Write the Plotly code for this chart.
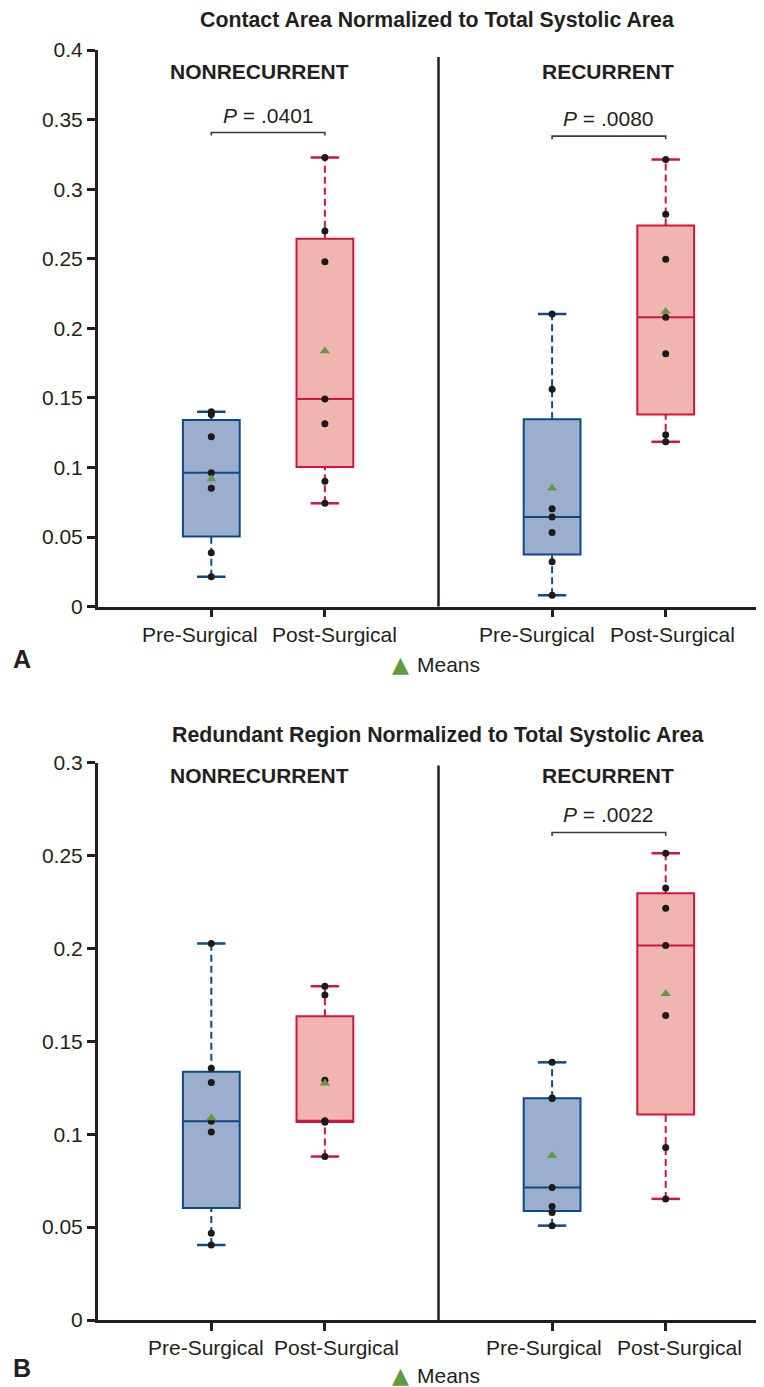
import numpy as np
import plotly.graph_objects as go

FONT = "Liberation Sans, Arial, Helvetica, sans-serif"
INK = "#231f20"
BLUE_LINE = "#0b4a83"
BLUE_FILL = "#9caecd"
RED_LINE = "#d2143f"
RED_FILL = "#efb5ae"
GREEN = "#5e9b3f"
DOT = "#1b1b1b"

# ---------------- data ----------------
categories = ["Pre-Surgical", "Post-Surgical"]
groups = ["NONRECURRENT", "RECURRENT"]
titles = ["Contact Area Normalized to Total Systolic Area",
          "Redundant Region Normalized to Total Systolic Area"]
panel_letters = ["A", "B"]

# Panel A: contact area / total systolic area
a_nonrec_pre = [0.0216, 0.0388, 0.0851, 0.0963, 0.1221, 0.1381, 0.1401]
a_nonrec_post = [0.0743, 0.0901, 0.1315, 0.1492, 0.2478, 0.2699, 0.3228]
a_rec_pre = [0.0082, 0.0323, 0.0534, 0.0644, 0.0704, 0.1562, 0.2103]
a_rec_post = [0.1185, 0.1236, 0.1818, 0.2079, 0.2496, 0.2819, 0.3214]

# Panel B: redundant region / total systolic area
b_nonrec_pre = [0.0404, 0.0467, 0.1012, 0.1070, 0.1278, 0.1355, 0.2027]
b_nonrec_post = [0.0880, 0.1065, 0.1068, 0.1072, 0.1290, 0.1750, 0.1797]
b_rec_pre = [0.0508, 0.0579, 0.0611, 0.0713, 0.1192, 0.1195, 0.1387]
b_rec_post = [0.0652, 0.0929, 0.1639, 0.2016, 0.2216, 0.2325, 0.2512]

a_pvalues = [".0401", ".0080"]
b_pvalues = [None, ".0022"]

a_ticks = [0, 0.05, 0.1, 0.15, 0.2, 0.25, 0.3, 0.35, 0.4]
a_ticktext = ["0", "0.05", "0.1", "0.15", "0.2", "0.25", "0.3", "0.35", "0.4"]
b_ticks = [0, 0.05, 0.1, 0.15, 0.2, 0.25, 0.3]
b_ticktext = ["0", "0.05", "0.1", "0.15", "0.2", "0.25", "0.3"]

# ---------------- layout constants ----------------
OFF = 8                         # default page margin of the html body
W, H = 764 - OFF, 1387 - OFF
POS = [[1, 2], [4, 5]]          # x positions: group -> [pre, post]
BOXW = 0.5
CAPW = 0.25
X0PX = 97.7 - OFF
UNIT = 113.6
XMAX = (W - X0PX) / UNIT


def px(x):
    return (x - OFF) / W


def py(y):
    return 1 - (y - OFF) / H


panels = [
    dict(data=[[a_nonrec_pre, a_nonrec_post], [a_rec_pre, a_rec_post]],
         pvals=a_pvalues, ymax=0.4, ticks=a_ticks, ticktext=a_ticktext,
         dom=[py(606.7), py(50)], xa="x", ya="y",
         title_py=19.5, letter_py=659, means_py=665, cat_py=634,
         cat_shift=[[-11, 10], [-15, 7]],
         group_y=0.3848, bracket_y=[0.3407, 0.3381], bracket_d=0.0022,
         p_y=[0.3532, 0.3507], div_top=0.395),
    dict(data=[[b_nonrec_pre, b_nonrec_post], [b_rec_pre, b_rec_post]],
         pvals=b_pvalues, ymax=0.3, ticks=b_ticks, ticktext=b_ticktext,
         dom=[py(1320), py(762.7)], xa="x2", ya="y2",
         title_py=734.5, letter_py=1368, means_py=1375, cat_py=1347.5,
         cat_shift=[[-5, 12], [-8, 14]],
         group_y=0.2930, bracket_y=[None, 0.2624], bracket_d=0.0018,
         p_y=[None, 0.2722], div_top=0.2985),
]

fig = go.Figure()
annotations = []
shapes = []

for pi, P in enumerate(panels):
    xa, ya = P["xa"], P["ya"]
    for gi in range(2):
        for ci in range(2):
            vals = np.array(P["data"][gi][ci])
            p = POS[gi][ci]
            line_c = BLUE_LINE if ci == 0 else RED_LINE
            fill_c = BLUE_FILL if ci == 0 else RED_FILL
            q1, med, q3 = np.quantile(vals, [0.25, 0.5, 0.75], method="hazen")
            lo, hi = vals.min(), vals.max()
            # dashed whiskers
            fig.add_trace(go.Scatter(
                x=[p, p, None, p, p], y=[q3, hi, None, lo, q1], mode="lines",
                line=dict(color=line_c, width=2, dash="7px,4px"),
                xaxis=xa, yaxis=ya, showlegend=False, hoverinfo="skip"))
            # caps
            fig.add_trace(go.Scatter(
                x=[p - CAPW / 2, p + CAPW / 2, None, p - CAPW / 2, p + CAPW / 2],
                y=[hi, hi, None, lo, lo], mode="lines",
                line=dict(color=line_c, width=2.5),
                xaxis=xa, yaxis=ya, showlegend=False, hoverinfo="skip"))
            # box
            fig.add_trace(go.Box(
                x=[p], q1=[q1], median=[med], q3=[q3],
                lowerfence=[q1], upperfence=[q3],
                width=BOXW, whiskerwidth=0, boxpoints=False,
                fillcolor=fill_c, line=dict(color=line_c, width=2),
                xaxis=xa, yaxis=ya, showlegend=False, hoverinfo="skip"))
            # individual points
            fig.add_trace(go.Scatter(
                x=[p] * len(vals), y=vals, mode="markers",
                marker=dict(color=DOT, size=7),
                xaxis=xa, yaxis=ya, showlegend=False, hoverinfo="skip"))
            # mean
            fig.add_trace(go.Scatter(
                x=[p], y=[vals.mean()], mode="markers",
                marker=dict(symbol="triangle-up", color=GREEN, size=9),
                xaxis=xa, yaxis=ya, showlegend=False, hoverinfo="skip"))
            # category label under the tick
            annotations.append(dict(
                text=categories[ci], x=p, xref=xa, y=py(P["cat_py"]), yref="paper",
                xshift=P["cat_shift"][gi][ci], showarrow=False,
                xanchor="center", yanchor="middle",
                font=dict(family=FONT, size=21, color=INK)))

        # group label
        annotations.append(dict(
            text="<b>%s</b>" % groups[gi], x=[1.42, 4.49][gi], y=P["group_y"],
            xref=xa, yref=ya, showarrow=False, xanchor="center", yanchor="middle",
            font=dict(family=FONT, size=21, color=INK)))
        # p-value bracket
        if P["pvals"][gi] is not None:
            by = P["bracket_y"][gi]
            d = P["bracket_d"]
            x0, x1 = POS[gi]
            fig.add_trace(go.Scatter(
                x=[x0, x0, x1, x1], y=[by - d, by, by, by - d], mode="lines",
                line=dict(color="#3a3a3a", width=1.6),
                xaxis=xa, yaxis=ya, showlegend=False, hoverinfo="skip"))
            annotations.append(dict(
                text="<i>P</i> = %s" % P["pvals"][gi], x=(x0 + x1) / 2, y=P["p_y"][gi],
                xref=xa, yref=ya, showarrow=False, xanchor="center", yanchor="middle",
                font=dict(family=FONT, size=21, color=INK)))

    # divider
    shapes.append(dict(type="line", xref=xa, yref=ya, x0=3, x1=3, y0=0, y1=P["div_top"],
                       line=dict(color=INK, width=2.5)))
    # title
    annotations.append(dict(
        text="<b>%s</b>" % titles[pi], x=px(437), y=py(P["title_py"]),
        xref="paper", yref="paper", showarrow=False, xanchor="center", yanchor="middle",
        font=dict(family=FONT, size=21.3, color=INK)))
    # panel letter
    annotations.append(dict(
        text="<b>%s</b>" % panel_letters[pi], x=px(22), y=py(P["letter_py"]),
        xref="paper", yref="paper", showarrow=False, xanchor="center", yanchor="middle",
        borderpad=0, font=dict(family=FONT, size=25, color=INK)))
    # means legend
    annotations.append(dict(
        text="▲", x=px(400), y=py(P["means_py"]),
        xref="paper", yref="paper", showarrow=False, xanchor="center", yanchor="middle",
        borderpad=0, font=dict(family="DejaVu Sans", size=22, color=GREEN)))
    annotations.append(dict(
        text="Means", x=px(416), y=py(P["means_py"]),
        xref="paper", yref="paper", showarrow=False, xanchor="left", yanchor="middle",
        borderpad=0, font=dict(family=FONT, size=21, color=INK)))

axis_common = dict(showgrid=False, zeroline=False, showline=True, linecolor=INK,
                   linewidth=2.5, ticks="outside", ticklen=8, tickwidth=2.5,
                   tickcolor=INK, automargin=False, tickangle=0,
                   tickfont=dict(family=FONT, size=21, color=INK))

xaxis_cfg = dict(axis_common, range=[0, XMAX], domain=[X0PX / W, 1],
                 tickvals=[1, 2, 4, 5], showticklabels=False)

fig.update_layout(
    template="none",
    width=W, height=H,
    margin=dict(l=0, r=0, t=0, b=0, pad=0),
    paper_bgcolor="white", plot_bgcolor="white",
    boxmode="overlay",
    showlegend=False,
    xaxis=dict(xaxis_cfg, anchor="y"),
    yaxis=dict(axis_common, range=[0, panels[0]["ymax"]], domain=panels[0]["dom"],
               tickvals=a_ticks, ticktext=a_ticktext, anchor="x"),
    xaxis2=dict(xaxis_cfg, anchor="y2"),
    yaxis2=dict(axis_common, range=[0, panels[1]["ymax"]], domain=panels[1]["dom"],
                tickvals=b_ticks, ticktext=b_ticktext, anchor="x2"),
    annotations=annotations,
    shapes=shapes,
)

fig.write_html("out.html")
